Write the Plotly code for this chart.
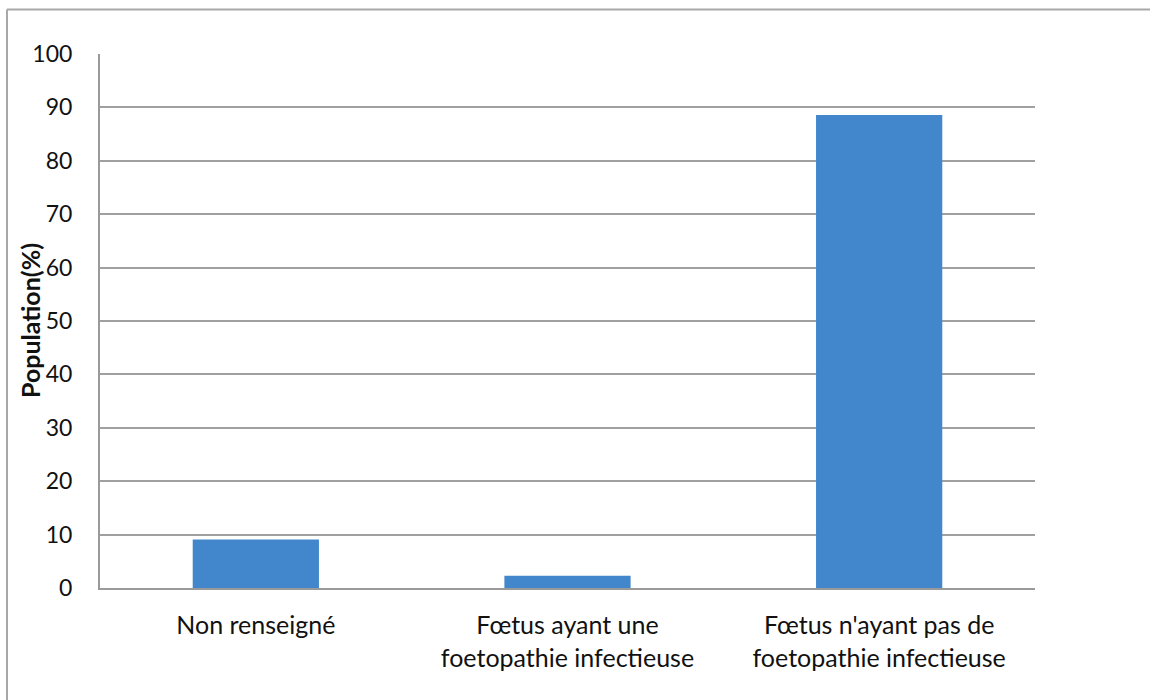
import plotly.graph_objects as go

categories = ["Non renseigné", "Fœtus ayant une<br>foetopathie infectieuse", "Fœtus n'ayant pas de<br>foetopathie infectieuse"]
values = [9.1, 2.3, 88.6]
y_ticks = [0, 10, 20, 30, 40, 50, 60, 70, 80, 90, 100]
y_title = "Population(%)"

FONT = "Lato, Open Sans, sans-serif"
PW, PH = 935, 534  # plot area in pixels

fig = go.Figure()
fig.add_trace(go.Bar(
    x=categories, y=values,
    width=0.405,
    marker=dict(color="#4286cb", line=dict(width=0)),
    hoverinfo="x+y",
))

fig.update_layout(
    width=1150, height=700,
    margin=dict(l=100, r=115, t=54, b=112),
    paper_bgcolor="white", plot_bgcolor="white",
    showlegend=False,
    font=dict(family=FONT, size=22, color="#111111"),
    xaxis=dict(
        showgrid=False, showline=True, linecolor="#9a9a9a", linewidth=2,
        ticks="", tickfont=dict(size=25), ticklabelstandoff=14, automargin=False,
    ),
    yaxis=dict(
        range=[0, 100], tickvals=y_ticks, showgrid=True, gridcolor="#a0a0a0", gridwidth=1.5,
        showline=True, linecolor="#9a9a9a", linewidth=2, zeroline=False,
        ticks="", tickfont=dict(size=23), ticklabelstandoff=21, automargin=False,
    ),
    annotations=[
        dict(text="<b>" + y_title + "</b>", textangle=-90, xref="paper", yref="paper",
             x=(30 - 100) / PW, y=0.5, xanchor="center", yanchor="middle",
             showarrow=False, font=dict(size=25)),
    ],
    shapes=[
        dict(type="line", xref="paper", yref="paper", x0=-93 / PW, x1=1050 / PW,
             y0=1 + 44.5 / PH, y1=1 + 44.5 / PH, line=dict(color="#a8a8a8", width=2)),
        dict(type="line", xref="paper", yref="paper", x0=-93 / PW, x1=-93 / PW,
             y0=1 + 44.5 / PH, y1=-112 / PH, line=dict(color="#a8a8a8", width=2)),
    ],
)

fig.write_html("out.html", config={"displayModeBar": False},
               post_script="document.body.style.margin='0px';")
